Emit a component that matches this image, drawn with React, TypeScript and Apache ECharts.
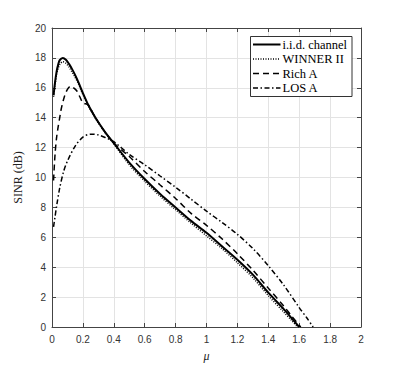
import React, { useEffect, useRef } from "react";
import * as echarts from "echarts";

const xTicks = [0, 0.2, 0.4, 0.6, 0.8, 1, 1.2, 1.4, 1.6, 1.8, 2];
const seriesNames = ["i.i.d. channel", "WINNER II", "Rich A", "LOS A"];

const muIid = [0.01, 0.02, 0.03, 0.04, 0.05, 0.07, 0.09, 0.11, 0.13, 0.15, 0.17, 0.2, 0.235, 0.27, 0.3, 0.35, 0.4, 0.5, 0.6, 0.7, 0.8, 0.9, 1.0, 1.1, 1.2, 1.3, 1.4, 1.5, 1.55, 1.6];
const sinrIid = [15.5, 16.4, 17.1, 17.55, 17.85, 18.0, 17.88, 17.6, 17.25, 16.85, 16.4, 15.65, 14.85, 14.2, 13.7, 12.95, 12.3, 11.0, 9.9, 8.9, 8.0, 7.1, 6.3, 5.4, 4.5, 3.5, 2.3, 1.2, 0.6, 0];

const muWin = [0.01, 0.02, 0.03, 0.04, 0.05, 0.07, 0.09, 0.11, 0.13, 0.15, 0.17, 0.2, 0.235, 0.27, 0.3, 0.35, 0.4, 0.5, 0.6, 0.7, 0.8, 0.9, 1.0, 1.1, 1.2, 1.3, 1.4, 1.5, 1.55, 1.59];
const sinrWin = [15.4, 16.2, 16.9, 17.3, 17.55, 17.75, 17.65, 17.4, 17.05, 16.7, 16.3, 15.55, 14.8, 14.15, 13.65, 12.9, 12.25, 10.85, 9.75, 8.75, 7.85, 6.95, 6.1, 5.25, 4.3, 3.3, 2.1, 1.0, 0.45, 0];

const muRich = [0.01, 0.02, 0.03, 0.04, 0.05, 0.06, 0.08, 0.1, 0.12, 0.14, 0.16, 0.18, 0.2, 0.235, 0.27, 0.3, 0.35, 0.4, 0.5, 0.6, 0.7, 0.8, 0.9, 1.0, 1.1, 1.2, 1.3, 1.4, 1.5, 1.55, 1.61];
const sinrRich = [9.8, 11.6, 12.7, 13.4, 14.0, 14.6, 15.4, 15.9, 16.1, 16.0, 15.8, 15.4, 15.0, 14.85, 14.2, 13.7, 12.95, 12.3, 11.4, 10.4, 9.5, 8.6, 7.6, 6.8, 5.9, 4.9, 3.8, 2.6, 1.4, 0.75, 0];

const muLos = [0.01, 0.02, 0.03, 0.05, 0.075, 0.1, 0.15, 0.2, 0.25, 0.3, 0.35, 0.4, 0.5, 0.6, 0.7, 0.8, 0.9, 1.0, 1.1, 1.2, 1.3, 1.4, 1.5, 1.6, 1.65, 1.69];
const sinrLos = [6.7, 7.4, 8.1, 9.3, 10.4, 11.1, 12.1, 12.7, 12.9, 12.85, 12.65, 12.4, 11.55, 10.85, 10.1, 9.35, 8.55, 7.75, 7.0, 6.2, 5.25, 4.1, 2.8, 1.3, 0.6, 0];

const pair = (xs: number[], ys: number[]) => xs.map((x, i) => [x, ys[i]]);

const styles: { width: number; type: any }[] = [
  { width: 2, type: "solid" },
  { width: 1.5, type: [1, 1.5] },
  { width: 1.5, type: [6, 4] },
  { width: 1.5, type: [5, 2.5, 1.5, 2.5] },
];

export default function App() {
  const ref = useRef<HTMLDivElement>(null);
  useEffect(() => {
    if (!ref.current) return;
    const chart = echarts.init(ref.current, undefined, { renderer: "svg" });
    const axisColor = "#444";
    const labelStyle = { color: "#333", fontSize: 10, fontFamily: "Liberation Sans, Arial, sans-serif" };
    const common = {
      type: "value" as const,
      min: 0,
      axisLine: { show: true, onZero: false, lineStyle: { color: axisColor, width: 1 } },
      axisTick: { show: true, inside: true, length: 4, lineStyle: { color: axisColor } },
    };
    const datas = [pair(muIid, sinrIid), pair(muWin, sinrWin), pair(muRich, sinrRich), pair(muLos, sinrLos)];
    const lx = 250.5, ly = 36.5, lw = 101.5, lh = 60;
    const legendChildren: any[] = [
      { type: "rect", z: 100, shape: { x: lx, y: ly, width: lw, height: lh }, style: { fill: "#fff", stroke: "#333", lineWidth: 1 } },
    ];
    seriesNames.forEach((n, i) => {
      const yy = ly + 8 + i * 14.5;
      const ls: any = { stroke: "#000", lineWidth: styles[i].width };
      if (styles[i].type !== "solid") ls.lineDash = styles[i].type;
      legendChildren.push({
        type: "line",
        z: 101,
        shape: { x1: lx + 2.5, y1: yy, x2: lx + 30, y2: yy },
        style: ls,
      });
      legendChildren.push({
        type: "text",
        z: 101,
        x: lx + 32,
        y: yy,
        style: {
          text: n,
          fill: "#000",
          fontSize: 12.5,
          fontFamily: "Liberation Serif",
          verticalAlign: "middle",
          align: "left",
        },
      });
    });
    chart.setOption({
      animation: false,
      grid: { left: 52, right: 38, top: 28, bottom: 41, containLabel: false },
      xAxis: [
        {
          ...common,
          max: 2,
          interval: 0.2,
          position: "bottom",
          axisLabel: { ...labelStyle, margin: 7, formatter: (v: number) => String(Math.round(v * 10) / 10) },
          splitLine: { show: true, lineStyle: { color: "#e3e3e3", width: 1 } },
          name: "μ",
          nameLocation: "middle",
          nameGap: 23,
          nameTextStyle: { fontFamily: "Liberation Serif", fontStyle: "italic", fontSize: 12, color: "#222" },
        },
        { ...common, max: 2, interval: 0.2, position: "top", axisLabel: { show: false }, splitLine: { show: false } },
      ],
      yAxis: [
        {
          ...common,
          max: 20,
          interval: 2,
          position: "left",
          axisLabel: { ...labelStyle, margin: 6 },
          splitLine: { show: true, lineStyle: { color: "#e3e3e3", width: 1 } },
          name: "SINR (dB)",
          nameLocation: "middle",
          nameGap: 26,
          nameRotate: 90,
          nameTextStyle: { fontFamily: "Liberation Serif", fontSize: 12, color: "#222" },
        },
        { ...common, max: 20, interval: 2, position: "right", axisLabel: { show: false }, splitLine: { show: false } },
      ],
      series: datas.map((d, i) => ({
        name: seriesNames[i],
        type: "line",
        data: d,
        showSymbol: false,
        smooth: 0.3,
        lineStyle: { color: "#000", width: styles[i].width, type: styles[i].type },
        z: 5 - i,
      })),
      graphic: [{ type: "group", children: legendChildren }],
    });
    return () => chart.dispose();
  }, []);
  return <div ref={ref} style={{ width: 399, height: 368, position: "absolute", left: 0, top: 0 }} />;
}
